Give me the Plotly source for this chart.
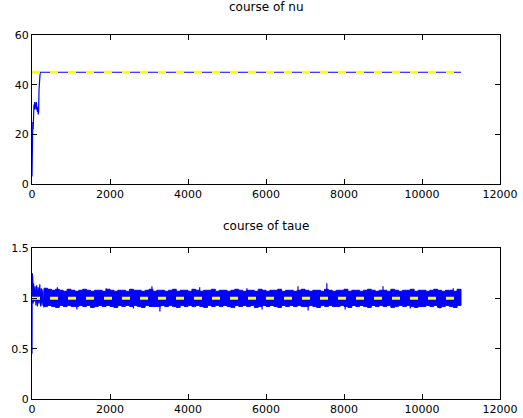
import plotly.graph_objects as go
from plotly.subplots import make_subplots

# ---- data ----
nu_x = [0, 5, 10, 20, 30, 40, 50, 60, 70, 80, 90, 100, 110, 120, 130, 140, 150, 160, 170, 180, 190, 200, 210, 11000]
nu_y = [3, 14, 12, 25, 22, 30, 32, 30, 33, 31, 32, 30, 33, 31, 32, 29, 31, 28, 29, 38, 40, 44, 45, 45]
nu_target = 45

taue_early_x = [0, 5, 10, 20, 30, 40, 60, 80, 100, 120, 140, 160, 180, 200, 220, 240, 260, 280, 300]
taue_early_y = [0.45, 1.25, 1.0, 1.2, 0.95, 1.15, 0.97, 1.12, 0.93, 1.13, 0.92, 1.11, 0.95, 1.14, 0.92, 1.10, 0.93, 1.09, 0.92]

# band envelope of the noisy taue trace, every 100 iterations
taue_band_x = list(range(300, 11001, 100))
taue_hi = [1.10, 1.09, 1.08, 1.09, 1.08, 1.07, 1.09, 1.08, 1.07, 1.08,
           1.09, 1.08, 1.07, 1.08, 1.08, 1.07, 1.09, 1.08, 1.07, 1.08,
           1.08, 1.07, 1.09, 1.08, 1.08, 1.07, 1.08, 1.09, 1.07, 1.08,
           1.08, 1.07, 1.08, 1.09, 1.07, 1.08, 1.08, 1.07, 1.09, 1.08,
           1.07, 1.08, 1.08, 1.09, 1.07, 1.08, 1.08, 1.07, 1.08, 1.09,
           1.08, 1.07, 1.08, 1.08, 1.07, 1.09, 1.08, 1.07, 1.08, 1.08,
           1.09, 1.07, 1.08, 1.08, 1.07, 1.08, 1.09, 1.08, 1.07, 1.08,
           1.08, 1.07, 1.09, 1.08, 1.07, 1.08, 1.08, 1.09, 1.07, 1.08,
           1.08, 1.07, 1.08, 1.09, 1.08, 1.07, 1.08, 1.08, 1.07, 1.09,
           1.08, 1.07, 1.08, 1.08, 1.09, 1.07, 1.08, 1.08, 1.07, 1.08,
           1.09, 1.08, 1.07, 1.08, 1.08, 1.07, 1.09, 1.08]
taue_lo = [0.91, 0.92, 0.93, 0.92, 0.91, 0.93, 0.92, 0.93, 0.92, 0.92,
           0.93, 0.92, 0.93, 0.91, 0.92, 0.93, 0.92, 0.93, 0.92, 0.91,
           0.93, 0.92, 0.93, 0.92, 0.93, 0.92, 0.91, 0.93, 0.92, 0.92,
           0.92, 0.93, 0.92, 0.93, 0.92, 0.91, 0.93, 0.92, 0.93, 0.92,
           0.93, 0.92, 0.91, 0.93, 0.92, 0.93, 0.92, 0.93, 0.92, 0.91,
           0.93, 0.92, 0.93, 0.92, 0.93, 0.91, 0.92, 0.93, 0.92, 0.93,
           0.92, 0.91, 0.93, 0.92, 0.93, 0.92, 0.93, 0.92, 0.92, 0.93,
           0.92, 0.91, 0.93, 0.92, 0.93, 0.92, 0.92, 0.93, 0.92, 0.91,
           0.93, 0.92, 0.93, 0.92, 0.91, 0.93, 0.92, 0.93, 0.92, 0.93,
           0.91, 0.92, 0.93, 0.92, 0.93, 0.92, 0.91, 0.92, 0.92, 0.93,
           0.92, 0.93, 0.91, 0.92, 0.93, 0.92, 0.91, 0.93]
# isolated single-sample excursions of the taue trace
spike_x = [650, 1150, 1900, 2600, 3075, 3280, 4300, 5510, 5900, 6820, 7080, 7560, 8030, 9000, 9700, 10460, 10800]
spike_y = [1.11, 0.89, 1.10, 0.90, 1.12, 0.87, 1.11, 1.10, 0.89, 1.12, 0.88, 1.15, 0.89, 1.12, 0.90, 0.90, 1.10]

taue_target = 1.0
target_x = [0, 11000]

x_ticks = [0, 2000, 4000, 6000, 8000, 10000, 12000]
x_ticktext = ["0", "2000", "4000", "6000", "8000", "10000", "12000"]
titles = ["course of nu", "course of taue"]

BLUE = "#0000ff"
YELLOW = "#ffff00"
FONT = "DejaVu Sans"

fig = make_subplots(rows=2, cols=1, vertical_spacing=0.05)

# nu
fig.add_trace(go.Scatter(x=nu_x, y=nu_y, mode="lines", line=dict(color=BLUE, width=1.2)), row=1, col=1)
fig.add_trace(go.Scatter(x=target_x, y=[nu_target, nu_target], mode="lines",
                         line=dict(color=YELLOW, width=3, dash="8px,10px")), row=1, col=1)

# taue band
fig.add_trace(go.Scatter(x=taue_band_x + taue_band_x[::-1], y=taue_hi + taue_lo[::-1],
                         mode="lines", fill="toself", fillcolor=BLUE,
                         line=dict(color=BLUE, width=1, shape="hv")), row=2, col=1)
sx, sy = [], []
for xv, yv in zip(spike_x, spike_y):
    sx += [xv, xv, None]
    sy += [taue_target, yv, None]
fig.add_trace(go.Scatter(x=sx, y=sy, mode="lines", line=dict(color=BLUE, width=1.2)), row=2, col=1)
fig.add_trace(go.Scatter(x=taue_early_x, y=taue_early_y, mode="lines",
                         line=dict(color=BLUE, width=1.2)), row=2, col=1)
fig.add_trace(go.Scatter(x=target_x, y=[taue_target, taue_target], mode="lines",
                         line=dict(color=YELLOW, width=3, dash="8px,10px")), row=2, col=1)

axis_common = dict(showline=True, linecolor="black", linewidth=1, mirror="ticks",
                   ticks="inside", ticklen=5, tickcolor="black", showgrid=False,
                   zeroline=False, automargin=False,
                   tickfont=dict(family=FONT, size=11, color="black"))

fig.update_xaxes(range=[0, 12000], tickvals=x_ticks, ticktext=x_ticktext, **axis_common)
fig.update_yaxes(**axis_common)
fig.update_yaxes(range=[0, 60], tickvals=[0, 20, 40, 60], row=1, col=1)
fig.update_yaxes(range=[0, 1.5], tickvals=[0, 0.5, 1, 1.5], ticktext=["0", "0.5", "1", "1.5"], row=2, col=1)

fig.update_layout(
    width=523, height=418,
    margin=dict(l=32, r=23, t=35, b=19, autoexpand=False),
    paper_bgcolor="white", plot_bgcolor="white",
    showlegend=False,
    annotations=[
        dict(text=titles[0], x=0.5, y=1.0, xref="paper", yref="paper", yshift=19,
             showarrow=False, font=dict(family=FONT, size=12, color="black"), yanchor="bottom"),
        dict(text=titles[1], x=0.5, y=0.4148, xref="paper", yref="paper", yshift=13,
             showarrow=False, font=dict(family=FONT, size=12, color="black"), yanchor="bottom"),
    ],
)
fig.update_layout(yaxis=dict(domain=[0.5907, 1.0]), yaxis2=dict(domain=[0.0, 0.4148]))

fig.write_html("out.html")
